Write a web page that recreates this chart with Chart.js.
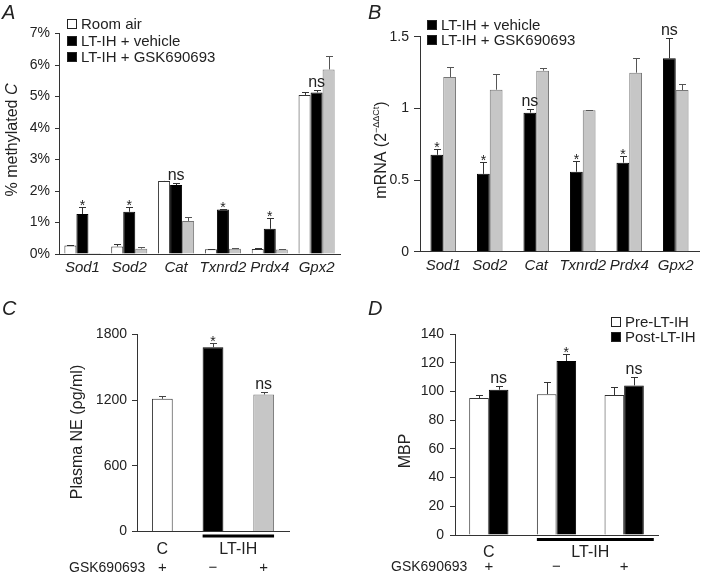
<!DOCTYPE html>
<html>
<head>
<meta charset="utf-8">
<script src="https://cdn.jsdelivr.net/npm/chart.js@4"></script>
<style>
  body { margin: 0; background: #fff; width: 702px; height: 574px; position: relative; overflow: hidden; }
  canvas { position: absolute; }
</style>
</head>
<body>
<canvas id="cA" width="351" height="290" style="left:0;top:0"></canvas>
<canvas id="cB" width="351" height="290" style="left:351px;top:0"></canvas>
<canvas id="cC" width="351" height="284" style="left:0;top:290px"></canvas>
<canvas id="cD" width="351" height="284" style="left:351px;top:290px"></canvas>
<script>
// ---- data ----
const genes = ['Sod1', 'Sod2', 'Cat', 'Txnrd2', 'Prdx4', 'Gpx2'];

// A: % methylated C
const roomAirA = [0.27, 0.24, 2.32, 0.15, 0.16, 5.05];
const roomAirAErr = [0.01, 0.09, 0.01, 0.01, 0.02, 0.10];
const vehicleA = [1.27, 1.34, 2.19, 1.41, 0.80, 5.13];
const vehicleAErr = [0.21, 0.14, 0.07, 0.01, 0.35, 0.08];
const gskA = [0.03, 0.17, 1.05, 0.17, 0.14, 5.86];
const gskAErr = [0.00, 0.06, 0.11, 0.03, 0.01, 0.43];
const sigA = ['*', '*', 'ns', '*', '*', 'ns'];

// B: mRNA
const vehicleB = [0.676, 0.543, 0.970, 0.558, 0.621, 1.349];
const vehicleBErr = [0.044, 0.080, 0.023, 0.076, 0.045, 0.144];
const gskB = [1.219, 1.130, 1.263, 0.986, 1.249, 1.128];
const gskBErr = [0.071, 0.107, 0.016, 0.004, 0.100, 0.039];
const sigB = ['*', '*', 'ns', '*', '*', 'ns'];

// C: plasma NE
const groupsC = ['C', 'LT-IH', 'LT-IH'];
const gskRowC = ['+', '\u2212', '+'];
const plasmaNE = [1211, 1681, 1251];
const plasmaNEErr = [28, 43, 21];
const sigC = ['', '*', 'ns'];

// D: MBP
const groupsD = ['C', 'LT-IH', 'LT-IH'];
const gskRowD = ['+', '\u2212', '+'];
const preMBP = [95.4, 98.1, 97.5];
const preMBPErr = [2.1, 8.2, 5.5];
const postMBP = [101.2, 121.2, 104.2];
const postMBPErr = [2.3, 4.8, 5.8];
const sigD = ['ns', '*', 'ns'];

// ---- styling helpers ----
const FONT = 'Liberation Sans, Arial, Helvetica, sans-serif';
const INK = '#222';
const GREY = '#c6c6c6';
Chart.defaults.font.family = FONT;
Chart.defaults.color = INK;

function txt(ctx, s, x, y, size, align, style) {
  ctx.font = (style || '') + ' ' + size + 'px ' + FONT;
  ctx.fillStyle = INK;
  ctx.textAlign = align || 'left';
  ctx.textBaseline = 'alphabetic';
  ctx.fillText(s, x, y);
}

// vertical title made of pieces [text, size, style, raise]
function vtitle(ctx, parts, cx, cy) {
  ctx.save();
  ctx.translate(cx, cy);
  ctx.rotate(-Math.PI / 2);
  ctx.textBaseline = 'middle';
  ctx.fillStyle = INK;
  let total = 0;
  parts.forEach(p => { ctx.font = (p[2] || '') + ' ' + p[1] + 'px ' + FONT; total += ctx.measureText(p[0]).width; });
  let x = -total / 2;
  parts.forEach(p => {
    ctx.font = (p[2] || '') + ' ' + p[1] + 'px ' + FONT;
    ctx.textAlign = 'left';
    ctx.fillText(p[0], x, -(p[3] || 0));
    x += ctx.measureText(p[0]).width;
  });
  ctx.restore();
}

function square(ctx, x, y, s, fill) {
  ctx.fillStyle = fill;
  ctx.fillRect(x, y, s, s);
  ctx.strokeStyle = '#222';
  ctx.lineWidth = 1;
  ctx.strokeRect(x + 0.5, y + 0.5, s - 1, s - 1);
}

// error bars + significance marks from dataset err / sig arrays
const errorBars = {
  id: 'errorBars',
  afterDatasetsDraw(chart) {
    const ctx = chart.ctx, y = chart.scales.y;
    chart.data.datasets.forEach((ds, di) => {
      if (!ds.err) return;
      chart.getDatasetMeta(di).data.forEach((bar, i) => {
        const top = y.getPixelForValue(ds.data[i] + ds.err[i]);
        const x = Math.round(bar.x) + 0.5;
        ctx.save();
        ctx.strokeStyle = ds.errColor || '#333';
        ctx.lineWidth = 1;
        if (ds.err[i] > 0) {
          ctx.beginPath();
          ctx.moveTo(x, bar.y);
          ctx.lineTo(x, Math.round(top) + 0.5);
          ctx.moveTo(x - 3.5, Math.round(top) + 0.5);
          ctx.lineTo(x + 3.5, Math.round(top) + 0.5);
          ctx.stroke();
        }
        ctx.restore();
        if (ds.sig && ds.sig[i]) {
          if (ds.sig[i] === '*') txt(ctx, '*', bar.x, top + 3, 14, 'center');
          else txt(ctx, ds.sig[i], bar.x, top - 3, 16, 'center');
        }
      });
    });
  }
};
Chart.register(errorBars);

// options shared by the four panels; area = chart area in page coords
function makeOptions(o) {
  return {
    responsive: false,
    animation: false,
    devicePixelRatio: 1,
    layout: {
      padding: {
        left: o.area.l - o.cv[0] - o.yW,
        right: o.cv[0] + o.cv[2] - o.area.r,
        top: o.area.t - o.cv[1],
        bottom: o.cv[1] + o.cv[3] - o.area.b - o.xH
      }
    },
    plugins: { legend: { display: false }, tooltip: { enabled: false } },
    scales: {
      x: {
        grid: { display: false, drawTicks: false },
        border: { color: '#333', width: 1 },
        ticks: { display: o.xTicks, font: { size: 15, style: 'italic' }, padding: 5, color: INK,
          maxRotation: 0, minRotation: 0, autoSkip: false },
        afterFit: s => { s.height = o.xH; }
      },
      y: {
        min: 0, max: o.max,
        ticks: { stepSize: o.step, font: { size: 14 }, padding: o.pad, color: INK, callback: o.fmt },
        grid: { drawOnChartArea: false, tickLength: o.tl, color: '#333' },
        border: { color: '#333', width: 1 },
        afterFit: s => { s.width = o.yW; }
      }
    }
  };
}

// ---- A ----
const cvA = [0, 0, 351, 290];
const optA = makeOptions({ cv: cvA, area: { l: 59, r: 340, t: 33.5, b: 254 }, yW: 30, xH: 30, xTicks: true,
  max: 7, step: 1, pad: 5, tl: 4, fmt: v => v + '%' });
new Chart(document.getElementById('cA'), {
  type: 'bar',
  data: {
    labels: genes,
    datasets: [
      { label: 'Room air', data: roomAirA, err: roomAirAErr, backgroundColor: '#fff', borderColor: '#333', borderWidth: 1 },
      { label: 'LT-IH + vehicle', data: vehicleA, err: vehicleAErr, sig: sigA, backgroundColor: '#000', borderColor: '#000', borderWidth: 1 },
      { label: 'LT-IH + GSK690693', data: gskA, err: gskAErr, backgroundColor: GREY, borderColor: '#777', borderWidth: 1, errColor: '#555' }
    ]
  },
  options: Object.assign(optA, { datasets: { bar: { categoryPercentage: 0.77, barPercentage: 1 } } }),
  plugins: [{
    id: 'extrasA',
    afterDraw(chart) {
      const ctx = chart.ctx;
      txt(ctx, 'A', 2, 19, 20, 'left', 'italic');
      square(ctx, 67, 19, 10, '#fff');
      square(ctx, 67, 36, 10, '#000');
      square(ctx, 67, 52, 10, '#000');
      txt(ctx, 'Room air', 81, 29, 15);
      txt(ctx, 'LT-IH + vehicle', 81, 46, 15);
      txt(ctx, 'LT-IH + GSK690693', 81, 62, 15);
      vtitle(ctx, [['% methylated ', 16], ['C', 16, 'italic']], 13, 140);
    }
  }]
});

// ---- B ----
const cvB = [351, 0, 351, 290];
const optB = makeOptions({ cv: cvB, area: { l: 420, r: 699, t: 36.7, b: 251.7 }, yW: 30, xH: 30, xTicks: true,
  max: 1.5, step: 0.5, pad: 5, tl: 6, fmt: v => String(v) });
new Chart(document.getElementById('cB'), {
  type: 'bar',
  data: {
    labels: genes,
    datasets: [
      { label: 'LT-IH + vehicle', data: vehicleB, err: vehicleBErr, sig: sigB, backgroundColor: '#000', borderColor: '#000', borderWidth: 1 },
      { label: 'LT-IH + GSK690693', data: gskB, err: gskBErr, backgroundColor: GREY, borderColor: '#777', borderWidth: 1, errColor: '#555' }
    ]
  },
  options: Object.assign(optB, { datasets: { bar: { categoryPercentage: 0.55, barPercentage: 1 } } }),
  plugins: [{
    id: 'extrasB',
    afterDraw(chart) {
      const ctx = chart.ctx;
      ctx.save();
      ctx.translate(-351, 0);
      txt(ctx, 'B', 368, 19, 20, 'left', 'italic');
      square(ctx, 427, 20, 10, '#000');
      square(ctx, 427, 35, 10, '#000');
      txt(ctx, 'LT-IH + vehicle', 441, 30, 15);
      txt(ctx, 'LT-IH + GSK690693', 441, 45, 15);
      vtitle(ctx, [['mRNA (2', 16], ['\u2212\u0394\u0394Ct', 9, '', 5], [')', 16]], 382, 150);
      ctx.restore();
    }
  }]
});

// bottom group labels and the GSK690693 +/- row for C and D
function groupRow(chart, ctx, groups, gskRow, lineEndPad, labelY, rowY) {
  const x = chart.scales.x;
  const c0 = x.getPixelForValue(0), c1 = x.getPixelForValue(1), c2 = x.getPixelForValue(2);
  txt(ctx, groups[0], c0, labelY, 16, 'center');
  txt(ctx, groups[1], (c1 + c2) / 2, labelY, 16, 'center');
  const metaFirst = chart.getDatasetMeta(0).data[1];
  const metaLast = chart.getDatasetMeta(chart.data.datasets.length - 1).data[2];
  const x0 = metaFirst.x - metaFirst.width / 2;
  const x1 = metaLast.x + metaLast.width / 2 + lineEndPad;
  ctx.fillStyle = '#000';
  ctx.fillRect(x0, chart.chartArea.bottom + 3, x1 - x0, 3);
  gskRow.forEach((s, i) => txt(ctx, s, x.getPixelForValue(i), rowY, 15, 'center'));
}

// ---- C ----
const cvC = [0, 290, 351, 284];
const optC = makeOptions({ cv: cvC, area: { l: 137, r: 289, t: 334.3, b: 531.5 }, yW: 40, xH: 10, xTicks: false,
  max: 1800, step: 600, pad: 5, tl: 5, fmt: v => String(v) });
new Chart(document.getElementById('cC'), {
  type: 'bar',
  data: {
    labels: groupsC,
    datasets: [
      { data: plasmaNE, err: plasmaNEErr, sig: sigC, backgroundColor: ['#fff', '#000', GREY],
        borderColor: ['#333', '#000', '#777'], borderWidth: 1, errColor: '#444' }
    ]
  },
  options: Object.assign(optC, { datasets: { bar: { categoryPercentage: 0.41, barPercentage: 1 } } }),
  plugins: [{
    id: 'extrasC',
    afterDraw(chart) {
      const ctx = chart.ctx;
      ctx.save();
      ctx.translate(0, -290);
      txt(ctx, 'C', 2, 315, 20, 'left', 'italic');
      vtitle(ctx, [['Plasma NE (\u03c1g/ml)', 16]], 78, 432);
      ctx.restore();
      groupRow(chart, ctx, groupsC, gskRowC, 0, 554 - 290, 572 - 290);
      txt(ctx, 'GSK690693', 69, 572 - 290, 14);
    }
  }]
});

// ---- D ----
const cvD = [351, 290, 351, 284];
const optD = makeOptions({ cv: cvD, area: { l: 455, r: 658, t: 334, b: 535 }, yW: 40, xH: 10, xTicks: false,
  max: 140, step: 20, pad: 6, tl: 5, fmt: v => String(v) });
new Chart(document.getElementById('cD'), {
  type: 'bar',
  data: {
    labels: groupsD,
    datasets: [
      { label: 'Pre-LT-IH', data: preMBP, err: preMBPErr, backgroundColor: '#fff', borderColor: '#333', borderWidth: 1 },
      { label: 'Post-LT-IH', data: postMBP, err: postMBPErr, sig: sigD, backgroundColor: '#000', borderColor: '#000', borderWidth: 1 }
    ]
  },
  options: Object.assign(optD, { datasets: { bar: { categoryPercentage: 0.58, barPercentage: 1 } } }),
  plugins: [{
    id: 'extrasD',
    afterDraw(chart) {
      const ctx = chart.ctx;
      groupRow(chart, ctx, groupsD, gskRowD, 10, 557 - 290, 571 - 290);
      ctx.save();
      ctx.translate(-351, -290);
      txt(ctx, 'D', 368, 315, 20, 'left', 'italic');
      square(ctx, 611, 317, 10, '#fff');
      square(ctx, 611, 332, 10, '#000');
      txt(ctx, 'Pre-LT-IH', 625, 327, 15);
      txt(ctx, 'Post-LT-IH', 625, 342, 15);
      txt(ctx, 'GSK690693', 391, 571, 14);
      vtitle(ctx, [['MBP', 16]], 406, 451);
      ctx.restore();
    }
  }]
});
</script>
</body>
</html>
